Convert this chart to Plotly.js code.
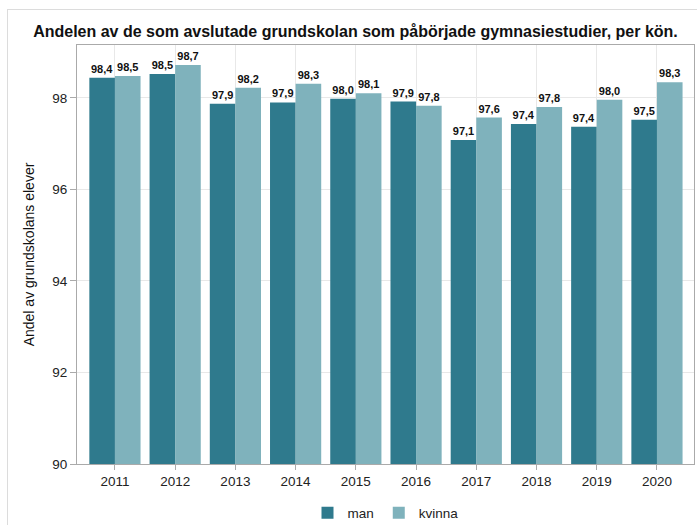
<!DOCTYPE html>
<html>
<head>
<meta charset="utf-8">
<script src="https://cdn.plot.ly/plotly-3.0.1.min.js"></script>
<style>
  html, body { margin: 0; padding: 0; background: #fff; }
  #wrap { position: relative; width: 697px; height: 525px; }
  #chart { width: 697px; height: 525px; }
  #frame { position: absolute; left: 7px; top: 9px; width: 700px; height: 530px;
           border: 1px solid #dcdcdc; pointer-events: none; box-sizing: border-box; }
</style>
</head>
<body>
<div id="wrap">
  <div id="chart"></div>
  <div id="frame"></div>
</div>
<script>
const years = ['2011','2012','2013','2014','2015','2016','2017','2018','2019','2020'];
const man =    [98.44, 98.52, 97.87, 97.90, 97.98, 97.92, 97.08, 97.43, 97.37, 97.52];
const kvinna = [98.48, 98.72, 98.22, 98.31, 98.10, 97.83, 97.57, 97.80, 97.96, 98.34];
const yTicks = [90, 92, 94, 96, 98];

const fmt = v => v.toFixed(1).replace('.', ',');
const FONT = 'Liberation Sans, Arial, sans-serif';

const common = {
  type: 'bar',
  x: years,
  textposition: 'outside',
  cliponaxis: false,
  constraintext: 'none',
  textfont: { family: FONT, size: 11, color: '#111', weight: 'bold' },
  hoverinfo: 'x+y'
};

const traces = [
  Object.assign({}, common, {
    name: 'man', y: man, text: man.map(fmt),
    marker: { color: '#2f7a8d' }
  }),
  Object.assign({}, common, {
    name: 'kvinna', y: kvinna, text: kvinna.map(fmt),
    marker: { color: '#7fb2bc' }
  })
];

const layout = {
  width: 697, height: 525,
  margin: { l: 77, r: 3, t: 45, b: 61, autoexpand: false },
  paper_bgcolor: '#fff', plot_bgcolor: '#fff',
  barmode: 'group',
  bargap: 0.15, bargroupgap: 0,
  title: {
    text: '<b>Andelen av de som avslutade grundskolan som påbörjade gymnasiestudier, per kön.</b>',
    font: { family: FONT, size: 16, color: '#111' },
    x: 0.51, xanchor: 'center', xref: 'container',
    y: 0.94, yanchor: 'middle', yref: 'container'
  },
  xaxis: {
    type: 'category',
    range: [-0.63, 9.615],
    showgrid: true, gridcolor: '#e8e8e8',
    ticks: 'outside', ticklen: 5, tickcolor: '#aaa',
    showline: true, linecolor: '#aaa', linewidth: 1, mirror: true,
    tickfont: { family: FONT, size: 13.5, color: '#222' },
    zeroline: false
  },
  yaxis: {
    range: [90, 99.155],
    tickvals: yTicks, ticktext: yTicks.map(String),
    showgrid: true, gridcolor: '#e8e8e8',
    ticks: 'outside', ticklen: 6, tickcolor: '#aaa',
    showline: true, linecolor: '#aaa', linewidth: 1, mirror: true,
    tickfont: { family: FONT, size: 13.5, color: '#222' },
    zeroline: false,
    title: { text: 'Andel av grundskolans elever', font: { family: FONT, size: 14, color: '#111' }, standoff: 14 }
  },
  showlegend: true,
  legend: {
    orientation: 'h', x: 0.5, xanchor: 'center', y: -0.117, yanchor: 'middle',
    font: { family: FONT, size: 13.5, color: '#222' },
    itemwidth: 30, traceorder: 'normal'
  }
};

Plotly.newPlot('chart', traces, layout, { displayModeBar: false, staticPlot: true });
</script>
</body>
</html>
